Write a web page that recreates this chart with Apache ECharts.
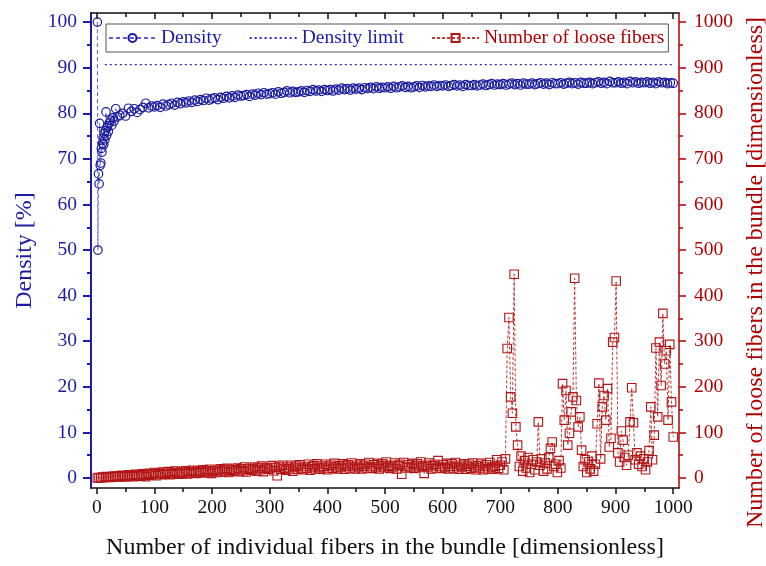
<!DOCTYPE html>
<html lang="en" style="height: 100%">

<head>
  <meta charset="UTF-8" />
  <title>Density and loose fibers</title>
  <script src="https://cdn.jsdelivr.net/npm/echarts@6/dist/echarts.min.js"></script>
</head>

<body style="height: 100%; margin: 0; background: #fff">
  <div id="main" style="width: 766px; height: 566px"></div>
  <script type="text/javascript">
    // density, first fibers (irregular spacing)
    var densityEarlyFibers = [1, 2, 3, 4, 5, 6, 7, 8, 9, 10, 11, 12, 13, 14, 15, 16, 17, 18, 19, 20,
      22, 24, 26, 28, 30, 33, 36, 40, 45, 50, 55, 60, 65, 70, 75, 80, 85, 90, 95, 100];
    var densityEarly = [100, 50, 66.7, 64.5, 77.8, 68.6, 69.1, 72.3, 71.5, 73.4, 74.5, 73.1, 75.6, 74.2, 76.2, 80.3, 75.1, 76.8, 77.3, 76.0,
      77.9, 78.5, 77.4, 79.0, 78.3, 81.0, 79.2, 79.6, 80.0, 79.4, 81.1, 80.4, 81.0, 80.2, 80.8, 81.3, 82.2, 81.2, 81.6, 81.4];
    // density from 105 to 1000, every 5 fibers
    var densityLateStart = 105;
    var densityLateStep = 5;
    var densityLate = [
      81.7, 81.3, 82.0, 81.6, 81.9, 82.2, 81.8, 82.4, 82.1, 82.5,
      82.3, 82.7, 82.4, 82.9, 82.6, 83.0, 82.8, 83.3, 82.9, 83.2,
      83.4, 83.0, 83.5, 83.3, 83.7, 83.4, 83.8, 83.5, 84.0, 83.8,
      83.9, 84.1, 83.7, 84.2, 84.0, 84.4, 84.1, 84.5, 84.2, 84.3,
      84.5, 84.2, 84.7, 84.4, 84.6, 84.9, 84.5, 84.8, 84.6, 84.7,
      84.9, 84.6, 85.0, 84.8, 85.2, 84.9, 85.1, 84.8, 85.2, 85.0,
      85.2, 84.9, 85.3, 85.1, 85.5, 85.2, 85.4, 85.1, 85.5, 85.3,
      85.5, 85.2, 85.6, 85.4, 85.7, 85.4, 85.8, 85.5, 85.7, 85.6,
      85.8, 85.5, 85.9, 85.6, 85.8, 86.0, 85.7, 85.9, 85.6, 85.8,
      86.0, 85.7, 86.1, 85.8, 86.0, 85.9, 86.2, 85.9, 86.1, 86.0,
      86.2, 85.9, 86.1, 86.3, 86.0, 86.2, 85.9, 86.3, 86.1, 86.1,
      86.3, 86.0, 86.2, 86.4, 86.1, 86.3, 86.5, 86.2, 86.4, 86.3,
      86.5, 86.2, 86.4, 86.6, 86.3, 86.5, 86.2, 86.6, 86.4, 86.4,
      86.6, 86.3, 86.5, 86.7, 86.4, 86.6, 86.3, 86.7, 86.5, 86.5,
      86.7, 86.4, 86.6, 86.8, 86.5, 86.7, 86.4, 86.8, 86.6, 86.6,
      86.8, 86.5, 86.7, 86.9, 86.6, 86.8, 86.5, 87.0, 86.7, 86.7,
      86.9, 86.6, 86.8, 86.5, 87.0, 86.7, 86.9, 86.6, 86.8, 86.7,
      86.9, 86.6, 86.8, 86.5, 86.9, 86.7, 86.8, 86.5, 86.7, 86.6
    ];
    var densityLimit = 90.69;
    var limitFibers = [14, 1000];

    // loose fibers, every 3 fibers from 1 to 1000
    var looseStart = 1;
    var looseStep = 3;
    var looseValues = [
      0, 1, 0, 2, 1, 3, 2, 1, 3, 2,
      4, 2, 5, 3, 6, 4, 2, 5, 7, 4,
      6, 3, 8, 5, 7, 4, 9, 6, 3, 8,
      10, 6, 8, 12, 5, 9, 11, 7, 13, 8,
      10, 14, 7, 12, 9, 15, 11, 8, 13, 10,
      12, 16, 9, 14, 11, 17, 13, 10, 15, 12,
      14, 18, 11, 16, 13, 19, 10, 15, 17, 12,
      16, 20, 13, 18, 14, 21, 12, 17, 19, 15,
      18, 22, 14, 20, 16, 24, 13, 19, 21, 17,
      20, 24, 15, 22, 18, 26, 14, 21, 23, 19,
      22, 27, 16, 23, 5, 25, 19, 28, 21, 17,
      24, 20, 28, 15, 23, 26, 19, 29, 22, 18,
      25, 21, 30, 17, 24, 27, 20, 31, 23, 19,
      26, 22, 30, 18, 25, 28, 21, 32, 24, 20,
      27, 23, 31, 19, 26, 29, 22, 33, 25, 20,
      28, 23, 31, 20, 26, 30, 22, 34, 25, 21,
      29, 24, 32, 20, 27, 31, 23, 35, 26, 21,
      28, 24, 33, 20, 27, 30, 8, 34, 25, 22,
      29, 24, 32, 21, 27, 31, 23, 35, 26, 10,
      28, 24, 33, 20, 27, 30, 22, 38, 25, 21,
      29, 23, 32, 20, 26, 31, 22, 34, 25, 19,
      28, 23, 31, 19, 26, 30, 21, 33, 24, 18,
      27, 22, 32, 18, 25, 29, 20, 34, 23, 19,
      26, 40, 21,
      28, 35, 18, 42, 284, 352, 178, 142, 447, 112,
      72, 25, 48, 15, 38, 22, 45, 12, 30, 40,
      18, 35, 123, 28, 42, 15, 33, 20, 45, 65,
      79, 25, 30, 12, 38, 22, 207, 127, 192, 72,
      98, 145, 178, 438, 170, 112, 134, 61, 25, 40,
      12, 35, 20, 48, 15, 30, 119, 208, 42, 156,
      181, 127, 196, 68, 87, 298, 308, 432, 55, 35,
      103, 83, 45, 28, 50, 123, 198, 121, 40, 55,
      30, 48, 25, 42, 18, 35, 60, 156, 40, 94,
      285, 134, 298, 203, 361, 250, 279, 127, 293, 167,
      90
    ];

    // tick labels
    var xMajorTicks = [0, 100, 200, 300, 400, 500, 600, 700, 800, 900, 1000];
    var xMinorTicks = [50, 150, 250, 350, 450, 550, 650, 750, 850, 950];
    var leftMajorTicks = [0, 10, 20, 30, 40, 50, 60, 70, 80, 90, 100];
    var leftMinorTicks = [5, 15, 25, 35, 45, 55, 65, 75, 85, 95];
    var rightMajorTicks = [0, 100, 200, 300, 400, 500, 600, 700, 800, 900, 1000];
    var rightMinorTicks = [50, 150, 250, 350, 450, 550, 650, 750, 850, 950];

    var font = "'Liberation Serif', 'Times New Roman', serif";
    var blue = '#1c1ca8';
    var red = '#b00000';
    var black = '#111';

    var densityData = densityEarlyFibers.map(function (f, i) { return [f, densityEarly[i]]; })
      .concat(densityLate.map(function (v, i) { return [densityLateStart + i * densityLateStep, v]; }));
    var looseData = looseValues.map(function (v, i) { return [looseStart + i * looseStep, v]; });
    var limitData = limitFibers.map(function (f) { return [f, densityLimit]; });

    function plain(v) { return String(v); }

    // plain axis, only ticks; used for minor ticks and the top frame
    function tickAxis(opts) {
      return Object.assign({
        type: 'value',
        splitLine: { show: false },
        axisLine: { show: false, onZero: false },
        axisLabel: { show: false },
        axisTick: { show: false }
      }, opts);
    }

    var myChart = echarts.init(document.getElementById('main'));

    var option = {
      animation: false,
      backgroundColor: '#fff',
      grid: { left: 91, right: 87, top: 13, bottom: 78, outerBoundsMode: 'none' },
      legend: {
        left: 106,
        top: 24,
        padding: [4, 4, 4, 2],
        itemGap: 27,
        itemWidth: 47,
        itemHeight: 10,
        borderColor: '#555',
        borderWidth: 1,
        backgroundColor: '#fff',
        textStyle: { fontFamily: font, fontSize: 19.5 },
        data: [
          { name: 'Density', textStyle: { color: blue } },
          { name: 'Density limit', textStyle: { color: blue }, itemStyle: { opacity: 0 } },
          { name: 'Number of loose fibers', textStyle: { color: red } }
        ]
      },
      xAxis: [
        {
          type: 'value', position: 'bottom', min: -10, max: 1010,
          name: 'Number of individual fibers in the bundle [dimensionless]',
          nameLocation: 'middle', nameGap: 48,
          nameTextStyle: { fontFamily: font, fontSize: 24, color: black },
          splitLine: { show: false },
          axisLine: { show: true, onZero: false, lineStyle: { color: black, width: 1.5 } },
          axisTick: { show: true, customValues: xMajorTicks, length: 6, lineStyle: { color: black, width: 1.5 } },
          axisLabel: { show: true, customValues: xMajorTicks, formatter: plain, margin: 10, fontFamily: font, fontSize: 19.5, color: black }
        },
        tickAxis({
          position: 'bottom', min: -10, max: 1010,
          axisTick: { show: true, customValues: xMinorTicks, length: 4, lineStyle: { color: black, width: 1.5 } }
        }),
        tickAxis({
          position: 'top', min: -10, max: 1010,
          axisLine: { show: true, onZero: false, lineStyle: { color: black, width: 1.5 } },
          axisTick: { show: true, inside: true, customValues: xMajorTicks, length: 6, lineStyle: { color: black, width: 1.5 } }
        }),
        tickAxis({
          position: 'top', min: -10, max: 1010,
          axisTick: { show: true, inside: true, customValues: xMinorTicks, length: 4, lineStyle: { color: black, width: 1.5 } }
        })
      ],
      yAxis: [
        {
          type: 'value', position: 'left', min: -2.2, max: 102,
          name: 'Density [%]', nameLocation: 'middle', nameGap: 54, nameRotate: 90,
          nameTextStyle: { fontFamily: font, fontSize: 24, color: blue },
          splitLine: { show: false },
          axisLine: { show: true, onZero: false, lineStyle: { color: blue, width: 2 } },
          axisTick: { show: true, customValues: leftMajorTicks, length: 8, lineStyle: { color: blue, width: 2 } },
          axisLabel: { show: true, customValues: leftMajorTicks, formatter: plain, margin: 14, fontFamily: font, fontSize: 19.5, color: blue }
        },
        tickAxis({
          position: 'left', min: -2.2, max: 102,
          axisTick: { show: true, customValues: leftMinorTicks, length: 4, lineStyle: { color: blue, width: 2 } }
        }),
        {
          type: 'value', position: 'right', min: -22, max: 1020,
          name: 'Number of loose fibers in the bundle [dimensionless]', nameLocation: 'middle', nameGap: 55, nameRotate: 90,
          nameTextStyle: { fontFamily: font, fontSize: 24, color: red, padding: [0, 44, 0, 0] },
          splitLine: { show: false },
          axisLine: { show: true, onZero: false, lineStyle: { color: red, width: 1.5 } },
          axisTick: { show: true, customValues: rightMajorTicks, length: 7, lineStyle: { color: red, width: 1.5 } },
          axisLabel: { show: true, customValues: rightMajorTicks, formatter: plain, margin: 15, fontFamily: font, fontSize: 19.5, color: red }
        },
        tickAxis({
          position: 'right', min: -22, max: 1020,
          axisTick: { show: true, customValues: rightMinorTicks, length: 4, lineStyle: { color: red, width: 1.5 } }
        })
      ],
      series: [
        {
          name: 'Number of loose fibers',
          type: 'line',
          xAxisIndex: 0,
          yAxisIndex: 2,
          data: looseData,
          symbol: 'rect',
          symbolSize: 8.5,
          showAllSymbol: true,
          lineStyle: { color: '#c03838', width: 1, type: [3, 2] },
          itemStyle: { color: 'rgba(255,255,255,0)', borderColor: '#b31515', borderWidth: 1.1 },
          emphasis: { disabled: true }
        },
        {
          name: 'Density limit',
          type: 'line',
          xAxisIndex: 0,
          yAxisIndex: 0,
          data: limitData,
          symbol: 'none',
          lineStyle: { color: '#2828d0', width: 1.3, type: [2, 3] },
          itemStyle: { color: '#2828d0' },
          emphasis: { disabled: true }
        },
        {
          name: 'Density',
          type: 'line',
          xAxisIndex: 0,
          yAxisIndex: 0,
          data: densityData,
          symbol: 'circle',
          symbolSize: 8.5,
          showAllSymbol: true,
          lineStyle: { color: '#5c5cd8', width: 1, type: [4, 3] },
          itemStyle: { color: 'rgba(255,255,255,0)', borderColor: '#1a1a9c', borderWidth: 1.2 },
          emphasis: { disabled: true }
        }
      ]
    };

    myChart.setOption(option);
    window.addEventListener('resize', myChart.resize);
  </script>
</body>

</html>
